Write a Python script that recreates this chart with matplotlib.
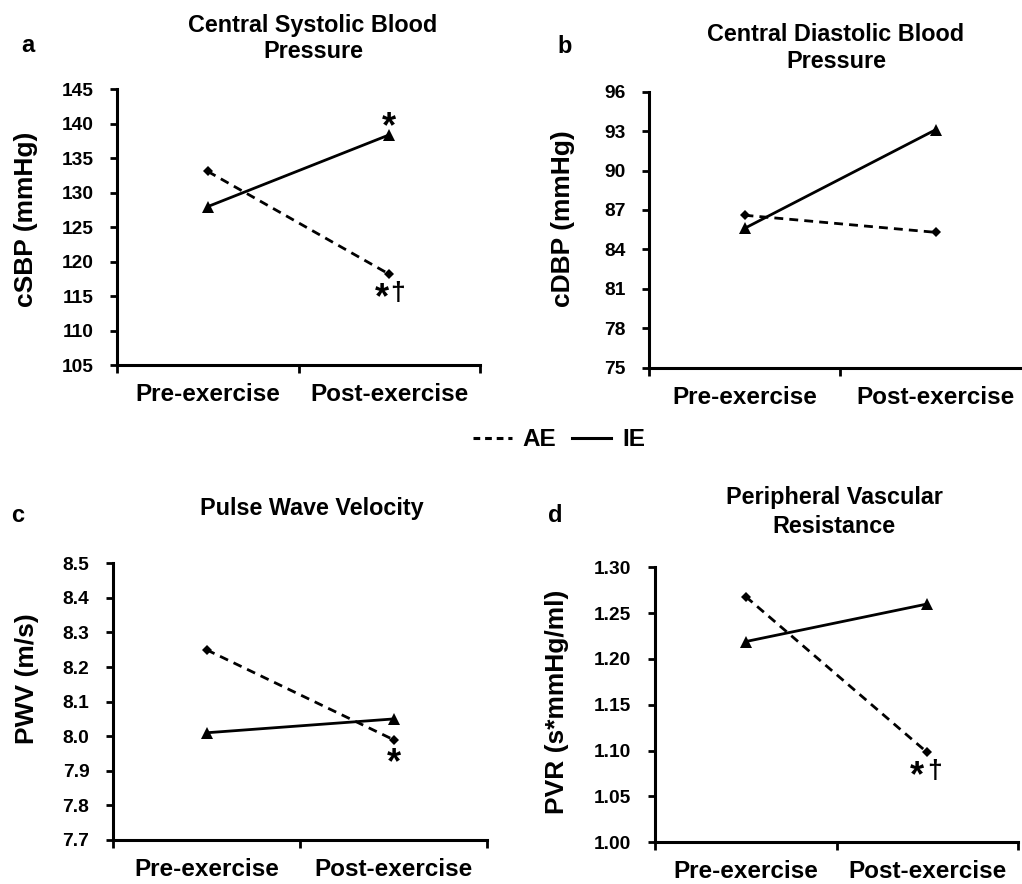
import matplotlib
matplotlib.use("Agg")
import matplotlib.pyplot as plt
from matplotlib.lines import Line2D
from matplotlib.ticker import FixedLocator, FormatStrFormatter

plt.rcParams['font.family'] = ['Liberation Sans', 'DejaVu Sans']
plt.rcParams['font.weight'] = 'bold'

# ---- data ----
categories = ['Pre-exercise', 'Post-exercise']
x_pos = [1, 2]

csbp_ae = [133.1, 118.2]
csbp_ie = [128.0, 138.4]
cdbp_ae = [86.6, 85.3]
cdbp_ie = [85.6, 93.1]
pwv_ae = [8.25, 7.99]
pwv_ie = [8.01, 8.05]
pvr_ae = [1.268, 1.098]
pvr_ie = [1.219, 1.260]

csbp_ticks = [105, 110, 115, 120, 125, 130, 135, 140, 145]
cdbp_ticks = [75, 78, 81, 84, 87, 90, 93, 96]
pwv_ticks = [7.7, 7.8, 7.9, 8.0, 8.1, 8.2, 8.3, 8.4, 8.5]
pvr_ticks = [1.00, 1.05, 1.10, 1.15, 1.20, 1.25, 1.30]

W, H = 1022, 884
fig = plt.figure(figsize=(W / 100, H / 100), dpi=100)


def px_axes(l, r, b, t):
    return fig.add_axes([l / W, 1 - b / H, (r - l) / W, (b - t) / H])


panels = [
    dict(rect=(117, 480, 365.3, 89.3), ae=csbp_ae, ie=csbp_ie, ticks=csbp_ticks,
         fmt='%d', ylabel='cSBP (mmHg)', lab=(-91, 0.53),
         title=['Central Systolic Blood', 'Pressure'], tx=313, ty=[32, 58],
         letter='a', lpos=(28, 52)),
    dict(rect=(649, 1031, 367.7, 91.7), ae=cdbp_ae, ie=cdbp_ie, ticks=cdbp_ticks,
         fmt='%d', ylabel='cDBP (mmHg)', lab=(-86, 0.54),
         title=['Central Diastolic Blood', 'Pressure'], tx=836, ty=[41, 68],
         letter='b', lpos=(565, 53)),
    dict(rect=(113, 487, 840, 563.3), ae=pwv_ae, ie=pwv_ie, ticks=pwv_ticks,
         fmt='%.1f', ylabel='PWV (m/s)', lab=(-86, 0.585),
         title=['Pulse Wave Velocity'], tx=312, ty=[515],
         letter='c', lpos=(18, 522)),
    dict(rect=(655, 1018, 842.3, 567.3), ae=pvr_ae, ie=pvr_ie, ticks=pvr_ticks,
         fmt='%.2f', ylabel='PVR (s*mmHg/ml)', lab=(-98, 0.51),
         title=['Peripheral Vascular', 'Resistance'], tx=834, ty=[504, 533],
         letter='d', lpos=(555, 522)),
]

axes = []
for p in panels:
    l, r, b, t = p['rect']
    ax = px_axes(l, r, b, t)
    axes.append(ax)
    ax.plot(x_pos, p['ae'], color='black', lw=2.0, ls=(0, (3.2, 2.2)),
            marker='D', markersize=5, markeredgewidth=0)
    ax.plot(x_pos, p['ie'], color='black', lw=2.0, ls='-',
            marker='^', markersize=8, markeredgewidth=0)
    ax.set_xlim(0.5, 2.5)
    ax.set_ylim(p['ticks'][0], p['ticks'][-1])
    ax.set_yticks(p['ticks'])
    ax.yaxis.set_major_formatter(FormatStrFormatter(p['fmt']))
    ax.set_xticks(x_pos)
    ax.set_xticklabels(categories)
    ax.xaxis.set_minor_locator(FixedLocator([0.5, 1.5, 2.5]))
    ax.tick_params(axis='x', which='major', length=0, pad=13, labelsize=17.5)
    ax.tick_params(axis='x', which='minor', length=6, width=2, direction='out')
    ax.tick_params(axis='y', which='major', length=5, width=2, direction='out',
                   pad=12, labelsize=13.8)
    for s in ['top', 'right']:
        ax.spines[s].set_visible(False)
    for s in ['left', 'bottom']:
        ax.spines[s].set_linewidth(2.2)
    ax.set_ylabel(p['ylabel'], fontsize=19, fontweight='bold', va='center')
    ax.yaxis.set_label_coords(p['lab'][0] / (r - l), p['lab'][1])
    for line, yy in zip(p['title'], p['ty']):
        fig.text(p['tx'] / W, 1 - yy / H, line, ha='center', va='baseline',
                 fontsize=16.8, fontweight='bold')
    fig.text(p['lpos'][0] / W, 1 - p['lpos'][1] / H, p['letter'], ha='center',
             va='baseline', fontsize=17, fontweight='bold')

ax_a, ax_b, ax_c, ax_d = axes


def star(ax, x, y, txt, dx, dy, size):
    ax.annotate(txt, xy=(x, y), xytext=(dx, dy), textcoords='offset points',
                ha='center', va='center', fontsize=size, fontweight='bold',
                annotation_clip=False)


# significance markers
star(ax_a, x_pos[1], csbp_ie[1], '*', 0, 5.3, 26)
star(ax_a, x_pos[1], csbp_ae[1], '*', -5, -17.8, 26)
star(ax_a, x_pos[1], csbp_ae[1], '\u2020', 6.2, -13.7, 19)
star(ax_c, x_pos[1], pwv_ae[1], '*', 0, -17.2, 26)
star(ax_d, x_pos[1], pvr_ae[1], '*', -7.2, -17.3, 26)
star(ax_d, x_pos[1], pvr_ae[1], '\u2020', 5.6, -13.0, 19)

handles = [Line2D([], [], color='black', lw=2.2, ls=(0, (2.2, 1.6))),
           Line2D([], [], color='black', lw=2.2, ls='-')]
fig.legend(handles, ['AE', 'IE'], loc='center', bbox_to_anchor=(559 / W, 1 - 440 / H),
           ncol=2, frameon=False, fontsize=17.5, handlelength=1.6,
           handletextpad=0.45, columnspacing=0.65)

fig.savefig('out.png', dpi=100)
